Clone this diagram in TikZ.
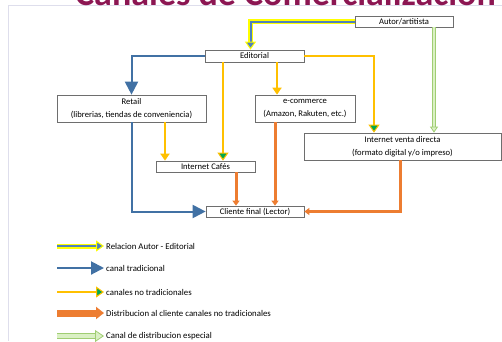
\documentclass[tikz,border=0pt]{standalone}
\usepackage{fontspec}
\setmainfont{Carlito}
\usetikzlibrary{arrows.meta}

\definecolor{tradblue}{RGB}{65,113,164}
\definecolor{relblue}{RGB}{79,129,189}
\definecolor{hiyellow}{RGB}{255,255,0}
\definecolor{nyellow}{RGB}{255,192,0}
\definecolor{tipgreen}{RGB}{0,168,80}
\definecolor{dorange}{RGB}{237,125,49}
\definecolor{sgreen}{RGB}{218,240,196}
\definecolor{sgreenline}{RGB}{160,205,115}
\definecolor{boxgray}{RGB}{110,110,110}
\definecolor{framecol}{RGB}{222,222,236}
\definecolor{titlecol}{RGB}{140,22,82}

\tikzset{
  box/.style={draw=boxgray, fill=white, line width=0.7pt, align=center,
    inner sep=0pt, font=\fontsize{8.6}{12.5}\selectfont},
  legtext/.style={anchor=west, inner sep=2pt, font=\fontsize{8.8}{10}\selectfont},
  relarrow/.style={draw=relblue, line width=2pt,
    -{Triangle[length=8pt,width=11pt,fill=relblue,color=hiyellow,line width=1pt]},
    preaction={draw=hiyellow, line width=5pt, shorten >=6pt, -}},
  tradarrow/.style={draw=tradblue, line width=2pt, -{Triangle[length=13pt,width=13pt]}},
  notrad/.style={draw=nyellow, line width=2pt, -{Triangle[length=7pt,width=9pt]}},
  notradg/.style={draw=nyellow, line width=2pt,
    -{Triangle[length=8pt,width=11pt,fill=tipgreen,line width=1pt]}},
  distarrow/.style={draw=dorange, line width=3pt, -{Triangle[length=5pt,width=7pt]}},
  specarrow/.style={draw=sgreen, line width=2pt,
    -{Triangle[length=6pt,width=8pt,fill=sgreen,color=sgreenline,line width=0.8pt]},
    preaction={draw=sgreenline, line width=4pt, shorten >=4pt, -}},
  distlegend/.style={draw=dorange, line width=7pt, -{Triangle[length=8pt,width=12pt]}},
  speclegend/.style={draw=sgreen, line width=4pt,
    -{Triangle[length=9pt,width=12pt,fill=sgreen,color=sgreenline,line width=0.8pt]},
    preaction={draw=sgreenline, line width=6pt, shorten >=6pt, -}},
}

\begin{document}
\begin{tikzpicture}[x=1pt, y=-1pt]
  \useasboundingbox (0,0) rectangle (502,341);
  \clip (0,0) rectangle (502,341);
  % frame and title (cut at the top)
  \draw[framecol, line width=0.8pt] (502,5.3) -- (8,5.3) -- (8,341);
  \node[anchor=base west, inner sep=0pt, text=titlecol,
    font=\fontsize{36}{36}\bfseries\selectfont] (title) at (75,5.8) {Canales de Comercialización};

  % boxes
  \node[box, minimum width=98pt, minimum height=11pt] (autor) at (404,21.5) {Autor/artitista};
  \node[box, minimum width=99pt, minimum height=12pt] (editorial) at (254.5,56) {Editorial};
  \node[box, minimum width=149pt, minimum height=27pt] (retail) at (131.5,108.5)
    {Retail\\(librerias, tiendas de conveniencia)};
  \node[box, minimum width=100pt, minimum height=27pt] (ecom) at (305,108.5)
    {e-commerce\\(Amazon, Rakuten, etc.)};
  \node[box, minimum width=197pt, minimum height=27pt] (directa) at (402.5,146.5)
    {Internet venta directa\\(formato digital y/o impreso)};
  \node[box, minimum width=99pt, minimum height=11pt] (cafes) at (205.5,166.5) {Internet Cafés};
  \node[box, minimum width=98pt, minimum height=11pt] (cliente) at (255,211.5) {Cliente final (Lector)};

  % connectors
  \draw[relarrow] (autor.west) -| ([xshift=-4]editorial.north);
  \draw[specarrow] ([xshift=30]autor.south) -- ([xshift=30]autor.south |- directa.north);
  \draw[tradarrow] (editorial.west) -| (retail.north);
  \draw[notrad] ([xshift=22.5]editorial.south) -- ([xshift=22.5]editorial.south |- ecom.north);
  \draw[notradg] (editorial.east) -| ([xshift=-28.5]directa.north);
  \draw[notradg] ([xshift=-31.5]editorial.south) -- ([xshift=-31.5]editorial.south |- cafes.north);
  \draw[notrad] ([xshift=33.5]retail.south) -- ([xshift=33.5]retail.south |- cafes.north);
  \draw[tradarrow] (retail.south) |- (cliente.west);
  \draw[distarrow] ([xshift=30.5]cafes.south) -- ([xshift=30.5]cafes.south |- cliente.north);
  \draw[distarrow] ([xshift=-30]ecom.south) -- ([xshift=-30]ecom.south |- cliente.north);
  \draw[distarrow] ([xshift=-2.5]directa.south) |- (cliente.east);

  % legend
  \foreach \sty/\txt/\yy [count=\i] in {%
      relarrow/{Relacion Autor - Editorial}/246,
      tradarrow/{canal tradicional}/268,
      notradg/{canales no tradicionales}/292,
      distlegend/{Distribucion al cliente canales no tradicionales}/313,
      speclegend/{Canal de distribucion especial}/336}
  {
    \coordinate (ls\i) at (57,\yy);
    \node[legtext] (lt\i) at (104,\yy) {\txt};
    \draw[\sty] (ls\i) -- (lt\i.west);
  }
\end{tikzpicture}
\end{document}
